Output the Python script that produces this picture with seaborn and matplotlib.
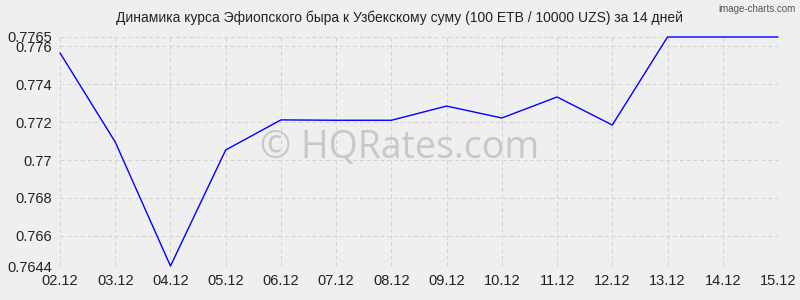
import matplotlib
matplotlib.use("Agg")
import matplotlib.pyplot as plt
import seaborn as sns
import pandas as pd

dates = ["02.12", "03.12", "04.12", "05.12", "06.12", "07.12", "08.12",
         "09.12", "10.12", "11.12", "12.12", "13.12", "14.12", "15.12"]
rates = [0.77566, 0.77095, 0.7644, 0.77053, 0.77212, 0.77210, 0.77210,
         0.77285, 0.77222, 0.77333, 0.77185, 0.7765, 0.7765, 0.7765]
yticks = [0.7644, 0.766, 0.768, 0.77, 0.772, 0.774, 0.776, 0.7765]
ytick_labels = ["0.7644", "0.766", "0.768", "0.77", "0.772", "0.774", "0.776", "0.7765"]
title = "Динамика курса Эфиопского быра к Узбекскому суму (100 ETB / 10000 UZS) за 14 дней"

sns.set_theme(style="white")
plt.rcParams['font.family'] = ['Liberation Sans', 'DejaVu Sans']

bg = "#efefef"
fig = plt.figure(figsize=(8, 3), dpi=100, facecolor=bg)
ax = fig.add_axes([0.075, 0.1133, 0.8975, 0.7634])
ax.set_facecolor(bg)

df = pd.DataFrame({"x": range(len(dates)), "y": rates})
sns.lineplot(data=df, x="x", y="y", ax=ax, color="#0000ff", linewidth=1.0)
for ln in ax.lines:
    ln.set_zorder(5)
    ln.set_clip_on(False)

ax.set_xlim(0, len(dates) - 1)
ax.set_ylim(0.7644, 0.7765)
ax.set_xticks(range(len(dates)))
ax.set_xticklabels(dates)
ax.set_yticks(yticks)
ax.set_yticklabels(ytick_labels)
ax.set_xlabel("")
ax.set_ylabel("")
ax.tick_params(axis="both", length=0, labelsize=10.5, colors="#222222", pad=6)
ax.set_axisbelow(True)
ax.grid(True, color="#d2d2d2", linestyle=(0, (4, 3)), linewidth=0.7)
for s in ax.spines.values():
    s.set_visible(False)

fig.text(0.5, 0.94, title, ha="center", va="center", fontsize=10, color="#222222")
fig.text(0.995, 0.985, "image-charts.com", ha="right", va="top", fontsize=7, color="#555555")
fig.text(0.5, 0.507, "© HQRates.com", ha="center", va="center", fontsize=27,
         color="#c8c8c8", family=["Open Sans", "DejaVu Sans"], zorder=1)

fig.savefig("out.png", dpi=100, facecolor=bg)
